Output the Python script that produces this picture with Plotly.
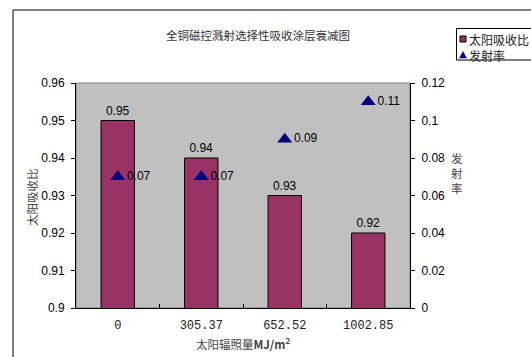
import plotly.graph_objects as go

# Data
irradiation = ["0", "305.37", "652.52", "1002.85"]
absorptance = [0.95, 0.94, 0.93, 0.92]
emittance = [0.07, 0.07, 0.09, 0.11]

W, H = 531, 357
ML, MR, MT, MB = 76, 121, 83, 49
PW, PH = W - ML - MR, H - MT - MB


def px(x):
    return (x - ML) / PW


def py(y):
    return 1 + (MT - y) / PH


CJK = "Noto Sans CJK SC"
SANS = "Liberation Sans"

fig = go.Figure()

fig.add_trace(go.Bar(
    x=irradiation, y=absorptance, name="太阳吸收比",
    width=0.4,
    marker=dict(color="#993366", line=dict(color="#000000", width=1)),
    text=[f"{v:g}" for v in absorptance], textposition="outside",
    textfont=dict(family=SANS, size=12, color="#000000"),
    cliponaxis=False, showlegend=False,
))

fig.add_trace(go.Scatter(
    x=irradiation, y=emittance, name="发射率", yaxis="y2",
    mode="markers+text",
    marker=dict(symbol="triangle-up", size=13, color="#000080"),
    text=[f"{v:g}" for v in emittance], textposition="middle right",
    textfont=dict(family=SANS, size=12, color="#000000"),
    showlegend=False,
))

shapes = [
    # outer chart frame
    dict(type="rect", xref="paper", yref="paper", x0=px(13), x1=px(W + 40),
         y0=py(H + 40), y1=py(10), line=dict(color="#000000", width=1),
         layer="below"),
    # plot area frame
    dict(type="rect", xref="paper", yref="paper", x0=0, x1=1, y0=0, y1=1,
         line=dict(color="#808080", width=1), layer="below"),
    # legend frame
    dict(type="rect", xref="paper", yref="paper", x0=px(456.5), x1=px(W + 40),
         y0=py(60), y1=py(28.5), line=dict(color="#000000", width=1)),
    # legend key: bars
    dict(type="rect", xref="paper", yref="paper", x0=px(460), x1=px(466),
         y0=py(42), y1=py(36), fillcolor="#993366",
         line=dict(color="#000000", width=1)),
    # legend key: triangle
    dict(type="path", xref="paper", yref="paper",
         path=f"M {px(459.5)} {py(58)} L {px(466.5)} {py(58)} L {px(463)} {py(51.5)} Z",
         fillcolor="#000080", line=dict(color="#000080", width=0.5)),
]

annotations = [
    dict(text="全铜磁控溅射选择性吸收涂层衰减图", xref="paper", yref="paper",
         x=px(258), y=py(35), showarrow=False, xanchor="center", yanchor="middle",
         font=dict(family=CJK, size=11.5, color="#333333")),
    dict(text="太阳吸收比", xref="paper", yref="paper", x=px(32), y=py(197),
         showarrow=False, textangle=-90, xanchor="center", yanchor="middle",
         font=dict(family=CJK, size=11.5, color="#444444")),
    dict(text="发<br>射<br>率", xref="paper", yref="paper", x=px(457), y=py(173),
         showarrow=False, xanchor="center", yanchor="middle",
         font=dict(family=CJK, size=11.5, color="#444444")),
    dict(text="太阳辐照量<b>MJ/m<sup>2</sup></b>", xref="paper", yref="paper",
         x=px(243), y=py(343), showarrow=False, xanchor="center", yanchor="middle",
         font=dict(family=CJK, size=11.5, color="#444444")),
    dict(text="太阳吸收比", xref="paper", yref="paper", x=px(467), y=py(39.5),
         showarrow=False, xanchor="left", yanchor="middle",
         font=dict(family=CJK, size=12, color="#222222")),
    dict(text="发射率", xref="paper", yref="paper", x=px(467), y=py(55),
         showarrow=False, xanchor="left", yanchor="middle",
         font=dict(family=CJK, size=12, color="#222222")),
]

fig.update_layout(
    width=W, height=H,
    margin=dict(l=ML, r=MR, t=MT, b=MB),
    paper_bgcolor="#ffffff", plot_bgcolor="#c0c0c0",
    showlegend=False, bargap=0.6,
    shapes=shapes, annotations=annotations,
    xaxis=dict(
        type="category", tickson="boundaries", ticks="inside", ticklen=4,
        tickcolor="#000000", showline=True, linecolor="#000000", linewidth=1,
        showgrid=False, zeroline=False, ticklabelstandoff=6,
        tickfont=dict(family="Liberation Mono", size=12, color="#222222"),
    ),
    yaxis=dict(
        range=[0.9, 0.96], dtick=0.01, ticks="outside", ticklen=4,
        tickcolor="#000000", showline=True, linecolor="#000000", linewidth=1,
        showgrid=False, zeroline=False, ticklabelstandoff=4,
        tickfont=dict(family=SANS, size=12, color="#000000"),
    ),
    yaxis2=dict(
        range=[0, 0.12], dtick=0.02, overlaying="y", side="right",
        ticks="outside", ticklen=4, tickcolor="#000000",
        showline=True, linecolor="#000000", linewidth=1,
        showgrid=False, zeroline=False, ticklabelstandoff=4,
        tickfont=dict(family=SANS, size=12, color="#000000"),
    ),
)

fig.write_html("out.html")
